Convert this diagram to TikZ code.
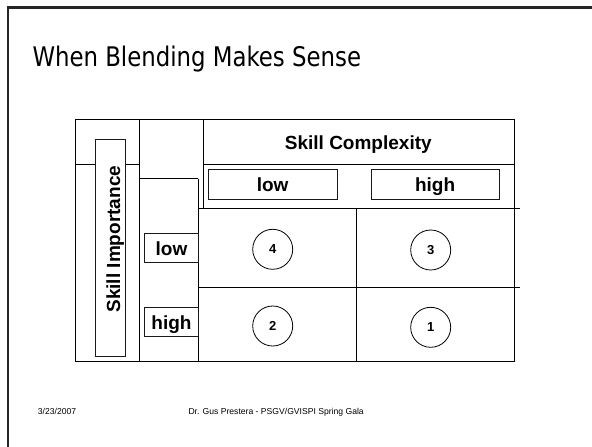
\documentclass[tikz,border=0pt]{standalone}
\usepackage{fontspec}
\setmainfont{Liberation Sans}
\newfontfamily\titlefont{DejaVu Sans Condensed}
\begin{document}
\begin{tikzpicture}[x=1pt,y=-1pt,
  grid/.style={draw=black, line width=1pt},
  lbox/.style={draw=black!90, line width=0.85pt, fill=white, inner sep=0pt,
    text height=14.6pt, text depth=0pt, font=\fontsize{19}{19}\selectfont\bfseries},
  plainbox/.style={draw=black!90, line width=0.85pt, fill=white, inner sep=0pt},
  lbl/.style={inner sep=0pt, font=\fontsize{19}{19}\selectfont\bfseries},
  num/.style={circle, draw=black, line width=0.8pt, minimum size=40pt, inner sep=0pt,
    font=\fontsize{13}{13}\selectfont\bfseries},
  foot/.style={font=\fontsize{8.6}{9}\selectfont, inner sep=0pt, anchor=base west}]
\useasboundingbox (0,0) rectangle (592,447);
\fill[white] (0,0) rectangle (592,447);
% slide border
\draw[line width=2.5pt, black!85] (7,7.5) -- (592,7.5);
\draw[line width=2pt, black!85] (8,6.5) -- (8,447);
% title
\node[anchor=base west, inner sep=0pt, font=\titlefont\fontsize{27}{27}\selectfont] (title) at (32.3,66.7) {\scalebox{0.94}[1]{When Blending Makes Sense}};
% table grid
\coordinate (tl) at (75,119.3);
\coordinate (br) at (514.3,361.3);
\draw[grid] (tl) rectangle (br);
\draw[grid] (139.5,119.3) -- (139.5,361.3);
\draw[grid] (75,164) -- (139.5,164);
\draw[grid] (203.5,164) -- (514.3,164);
\draw[grid] (203.5,119.3) -- (203.5,208.5);
\draw[grid] (139.5,178.5) -- (198.3,178.5);
\draw[grid] (198.3,178.5) -- (198.3,361.3);
\draw[grid] (198.3,208.5) -- (519.5,208.5);
\draw[grid] (198.3,287.5) -- (519.5,287.5);
\draw[grid] (356.7,208.5) -- (356.7,361.3);
% skill importance box
\node[plainbox, minimum width=29.7pt, minimum height=217.4pt] (sibox) at (110.2,248) {};
\node[lbl, rotate=90, anchor=base] (silabel) at (120,239.2) {Skill Importance};
% skill complexity
\node[lbl, anchor=base] (sclabel) at (358.3,149.3) {Skill Complexity};
% header boxes
\node[lbox, minimum width=128.7pt, minimum height=29.7pt] (hlow) at (272.65,184.15) {low};
\node[lbox, minimum width=128.3pt, minimum height=29.7pt] (hhigh) at (435.15,184.15) {high};
% row boxes
\node[lbox, minimum width=53.6pt, minimum height=29.4pt] (rlow) at (171.5,248) {low};
\node[lbox, minimum width=53.6pt, minimum height=29.4pt] (rhigh) at (171.5,322) {high};
% circles
\node[num] (c4) at (272.7,249.3) {4};
\node[num] (c3) at (430.7,250) {3};
\node[num] (c2) at (272.7,326) {2};
\node[num] (c1) at (430.7,327.3) {1};
% footer
\node[foot] (date) at (37.7,414.5) {3/23/2007};
\node[foot] (author) at (188.3,414.5) {Dr. Gus Prestera - PSGV/GVISPI Spring Gala};
\end{tikzpicture}
\end{document}
